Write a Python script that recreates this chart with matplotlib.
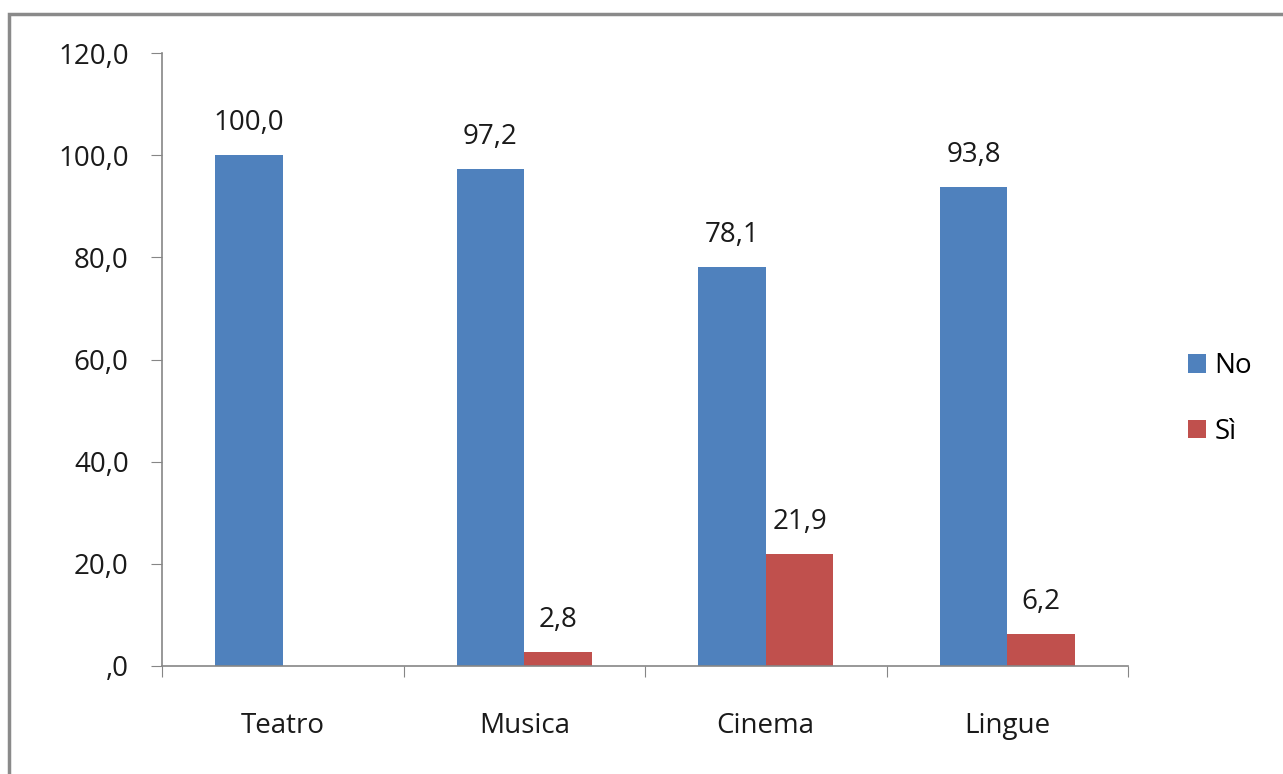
import matplotlib
matplotlib.use("Agg")
import matplotlib.pyplot as plt
import numpy as np
from matplotlib.patches import Rectangle
from matplotlib.ticker import FuncFormatter

categories = ["Teatro", "Musica", "Cinema", "Lingue"]
no_vals = [100.0, 97.2, 78.1, 93.8]
si_vals = [0.0, 2.8, 21.9, 6.2]
series_names = ["No", "Sì"]

BLUE = "#4F81BD"
RED = "#C0504D"
GRID = "#868686"
FS = 20

plt.rcParams["font.family"] = ["Open Sans", "DejaVu Sans"]

fig = plt.figure(figsize=(12.83, 7.74), dpi=100)
# outer chart frame (cut at the right and bottom edges)
fig.patches.append(Rectangle((9 / 1283, -0.05), 1.1, 1 - 14 / 774 + 0.05,
                             transform=fig.transFigure, fill=False,
                             edgecolor="#8a8a8a", linewidth=2.5))

ax = fig.add_axes([162 / 1283, 1 - 666 / 774, (1128 - 162) / 1283, (666 - 53) / 774])

x = np.arange(len(categories))
w = 0.28
b_no = ax.bar(x - w / 2, no_vals, w, color=BLUE, label=series_names[0])
b_si = ax.bar(x + w / 2, si_vals, w, color=RED, label=series_names[1])

for bars, vals in ((b_no, no_vals), (b_si, si_vals)):
    for rect, v in zip(bars, vals):
        if v == 0:
            continue
        ax.annotate(f"{v:.1f}".replace(".", ","),
                    (rect.get_x() + rect.get_width() / 2, v),
                    xytext=(0, 13), textcoords="offset points",
                    ha="center", va="bottom", fontsize=FS, color="#1a1a1a")

ax.set_xlim(-0.5, len(categories) - 0.5)
ax.set_ylim(0, 120)
ax.set_yticks(np.arange(0, 121, 20))
ax.yaxis.set_major_formatter(FuncFormatter(
    lambda v, _: ",0" if v == 0 else f"{v:.1f}".replace(".", ",")))

# category labels centred, tick marks on the boundaries
ax.set_xticks(np.arange(-0.5, len(categories), 1.0))
ax.set_xticklabels([])
ax.set_xticks(x, minor=True)
ax.set_xticklabels(categories, minor=True)
ax.tick_params(axis="x", which="minor", length=0, pad=33, labelsize=FS,
               labelcolor="#1a1a1a")
ax.tick_params(axis="x", which="major", length=8, color=GRID, direction="out")
ax.tick_params(axis="y", length=8, color=GRID, pad=16, labelsize=FS,
               labelcolor="#1a1a1a")

for s in ("top", "right"):
    ax.spines[s].set_visible(False)
for s in ("left", "bottom"):
    ax.spines[s].set_color(GRID)
    ax.spines[s].set_linewidth(1.2)

fig.legend(handles=[b_no, b_si], loc="center left",
           bbox_to_anchor=(1163 / 1283, 1 - 399 / 774), frameon=False,
           fontsize=FS, handlelength=0.65, handleheight=0.65,
           handletextpad=0.3, labelspacing=1.35)

fig.savefig("out.png", dpi=100)
